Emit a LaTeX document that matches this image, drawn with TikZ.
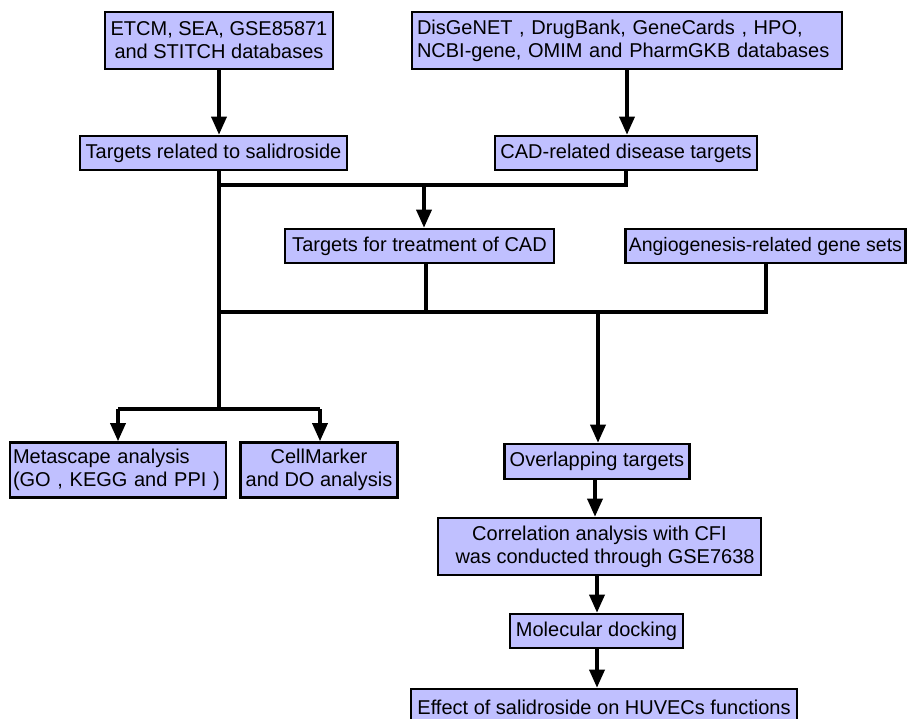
\documentclass[tikz,border=0pt]{standalone}
\usepackage{fontspec}
\setmainfont{Liberation Sans}
\usetikzlibrary{arrows.meta}
\definecolor{boxfill}{RGB}{192,192,255}
\begin{document}
\begin{tikzpicture}[x=1pt,y=-1pt,
  box/.style={draw=black, line width=2.6pt, fill=boxfill, inner xsep=5pt, inner ysep=0pt,
    align=center, font=\fontsize{20}{23}\selectfont},
  conn/.style={line width=3.4pt, draw=black},
  arr/.style={conn, -{Triangle[length=18pt,width=15pt]}}]
\useasboundingbox (0,0) rectangle (907,719);
\fill[white] (0,0) rectangle (907,719);

\node[box, minimum width=228pt, minimum height=57pt] (A) at (219,40.5) {ETCM, SEA, GSE85871\\and STITCH databases};
\node[box, text width=420pt, minimum height=57pt, align=left] (B) at (627,40.5) {DisGeNET , DrugBank, GeneCards , HPO,\\NCBI-gene, OMIM and PharmGKB databases};
\node[box, minimum width=267pt, minimum height=34pt] (C) at (213.5,153) {Targets related to salidroside};
\node[box, minimum width=262pt, minimum height=34pt] (D) at (626,153) {CAD-related disease targets};
\node[box, minimum width=269pt, minimum height=34pt] (E) at (419.5,246) {Targets for treatment of CAD};
\node[box, minimum height=34pt, anchor=west, inner xsep=3.5pt, font=\fontsize{19.5}{23}\selectfont] (F) at (624,246) {Angiogenesis-related gene sets};
\node[box, text width=210pt, inner xsep=3pt, minimum height=55pt, align=left] (G) at (118,470) {Metascape analysis\\(GO , KEGG and PPI )};
\node[box, minimum width=157pt, minimum height=55pt] (H) at (319,470) {CellMarker\\and DO analysis};
\node[box, minimum width=184pt, minimum height=35pt] (I) at (597,461.5) {Overlapping targets};
\node[box, minimum width=323pt, minimum height=57pt] (J) at (599.5,546.5) {Correlation analysis with CFI\\\ \ was conducted through GSE7638};
\node[box, minimum width=173pt, minimum height=34pt] (K) at (596.5,631) {Molecular docking};
\node[box, minimum width=386pt, minimum height=36pt] (L) at (604,707) {Effect of salidroside on HUVECs functions};

\coordinate (c1) at (219,185);
\coordinate (c2) at (424,185);
\coordinate (c3) at (219,312);
\coordinate (c4) at (598,312);
\coordinate (c5) at (219,409);
\coordinate (c6) at (118,409);
\coordinate (c7) at (320,409);
\coordinate (e1) at (426,312);
\coordinate (f1) at (766,312);
\coordinate (f0) at (766,263);

\draw[arr] (A.south) -- (A.south |- C.north);
\draw[arr] (B.south) -- (B.south |- D.north);
\draw[conn] (C.south -| c1) -- (c5);
\draw[conn] (D.south) -- (D.south |- c1) -- (c1);
\draw[arr] (c2) -- (c2 |- E.north);
\draw[conn] (E.south -| e1) -- (e1);
\draw[conn] (f0) -- (f1) -- (c3);
\draw[arr] (c4) -- (c4 |- I.north);
\draw[conn] (c6) -- (c7);
\draw[arr] (c6) -- (c6 |- G.north);
\draw[arr] (c7) -- (c7 |- H.north);
\draw[arr] (I.south -| 595,0) -- (595,0 |- J.north);
\draw[arr] (J.south -| 597,0) -- (597,0 |- K.north);
\draw[arr] (K.south -| 597,0) -- (597,0 |- L.north);
\end{tikzpicture}
\end{document}
